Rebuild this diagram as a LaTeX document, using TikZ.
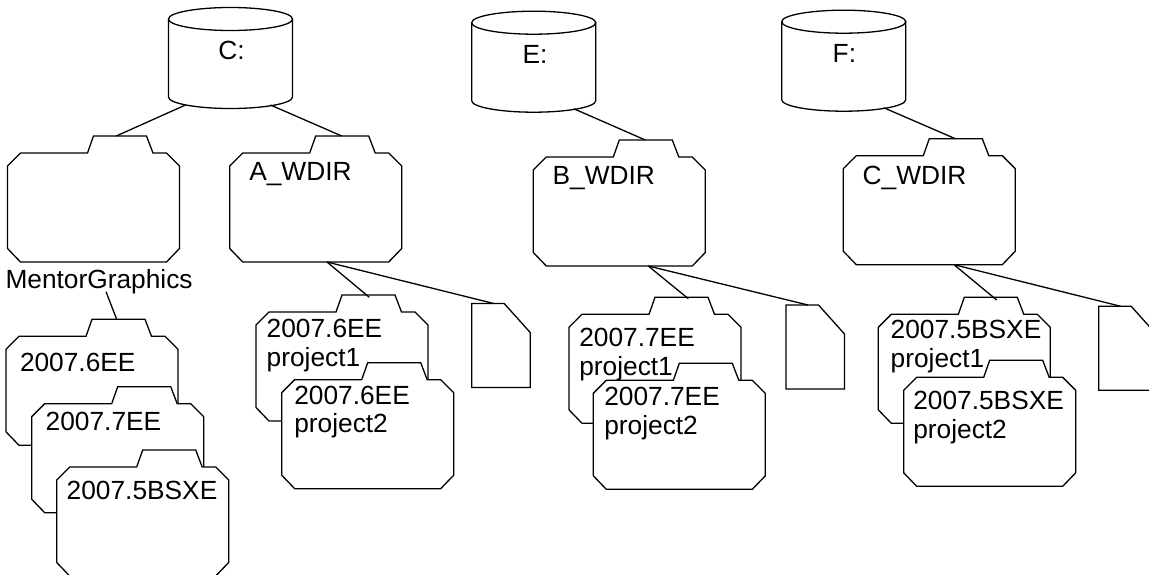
\documentclass[tikz,border=0pt]{standalone}
\usepackage{fontspec}
\setmainfont{Liberation Sans}
\tikzset{
  x=1pt,y=-1pt,
  outline/.style={draw=black,line width=1.3pt,line join=miter,fill=white},
  link/.style={draw=black,line width=1.3pt},
  lab/.style={font=\fontsize{26.3}{28.5}\selectfont,inner sep=0pt,outer sep=0pt,anchor=base west,align=left,text=black},
  folder/.pic={
    \path[outline] (0,30) -- (13,17) -- (80,17) -- (86,0) -- (139,0) -- (145.5,17) -- (159,17)
      -- (172,30) -- (172,112.5) -- (159,126) -- (13,126) -- (0,112.5) -- cycle;
    \coordinate (-tab) at (112,0);
    \coordinate (-bot) at (100,126);
  },
  disk/.pic={
    \path[outline] (0,0) -- (0,78) arc[start angle=180,end angle=360,x radius=62pt,y radius=11.5pt] -- (124,0) -- cycle;
    \path[outline] (62,0) ellipse [x radius=62pt,y radius=11.5pt];
    \coordinate (-sw) at (17,86);
    \coordinate (-se) at (102,86);
  },
  sheet/.pic={
    \path[outline] (0,0) -- (32.5,0) -- (58.5,29) -- (58.5,84) -- (0,84) -- cycle;
    \coordinate (-top) at (22,0);
  }
}
\begin{document}
\begin{tikzpicture}
\path[use as bounding box,clip] (0,0) rectangle (1149,575);
\fill[white] (0,0) rectangle (1149,575);

% disks
\pic (diskC) at (168.5,19) {disk};
\node[lab] (labC) at (218.3,60) {C:};
\pic (diskE) at (471.7,22.7) {disk};
\node[lab] (labE) at (522.7,63.3) {E:};
\pic (diskF) at (781.7,21.7) {disk};
\node[lab] (labF) at (832.7,63) {F:};

% top-level folders
\pic (mentor) at (7.5,136) {folder};
\pic (awdir) at (229.7,136) {folder};
\node[lab] (labA) at (249.3,180.7) {A\_WDIR};
\pic (bwdir) at (533.3,140) {folder};
\node[lab] (labB) at (552.7,185) {B\_WDIR};
\pic (cwdir) at (843.3,138.7) {folder};
\node[lab] (labCW) at (862.7,184.3) {C\_WDIR};
\node[lab] (labMG) at (5.5,288) {MentorGraphics};
\coordinate (mgfoot) at (106,291.7);

% MentorGraphics versions
\pic (mA) at (6,319.3) {folder};
\node[lab] (labmA) at (20,371.7) {2007.6EE};
\pic (mB) at (31.7,386.7) {folder};
\node[lab] (labmB) at (45.7,430.7) {2007.7EE};
\pic (mC) at (56.7,450) {folder};
\node[lab] (labmC) at (66.7,499) {2007.5BSXE};

% A_WDIR projects
\pic (ap1) at (256,295) {folder};
\node[lab] (labap1) at (266.7,366) {2007.6EE\\project1};
\pic (ap2) at (281.7,362.7) {folder};
\node[lab] (labap2) at (294.3,432.7) {2007.6EE\\project2};
\pic (afile) at (471.7,303.5) {sheet};

% B_WDIR projects
\pic (bp1) at (569,297.3) {folder};
\node[lab] (labbp1) at (579.3,375) {2007.7EE\\project1};
\pic (bp2) at (593.3,363.3) {folder};
\node[lab] (labbp2) at (604.3,434) {2007.7EE\\project2};
\pic (bfile) at (786,305) {sheet};

% C_WDIR projects
\pic (cp1) at (878.3,297.3) {folder};
\node[lab] (labcp1) at (890.7,367.3) {2007.5BSXE\\project1};
\pic (cp2) at (903.7,360.3) {folder};
\node[lab] (labcp2) at (913.3,438.3) {2007.5BSXE\\project2};
\pic (cfile) at (1098.7,306.3) {sheet};

% connectors
\draw[link] (diskC-sw) -- ([xshift=-3.2pt]mentor-tab);
\draw[link] (diskC-se) -- (awdir-tab);
\draw[link] (diskE-se) -- (bwdir-tab);
\draw[link] (diskF-se) -- (cwdir-tab);
\draw[link] (mgfoot) -- ([xshift=-1.3pt]mA-tab);
\draw[link] ([xshift=-2.7pt]awdir-bot) -- ([xshift=1.3pt,yshift=-2.3pt]ap1-tab);
\draw[link] ([xshift=-2.7pt]awdir-bot) -- (afile-top);
\draw[link] ([xshift=15pt]bwdir-bot) -- ([xshift=7.3pt,yshift=-1.4pt]bp1-tab);
\draw[link] ([xshift=15pt]bwdir-bot) -- (bfile-top);
\draw[link] ([xshift=10.7pt]cwdir-bot) -- ([xshift=6.4pt,yshift=-2.7pt]cp1-tab);
\draw[link] ([xshift=10.7pt]cwdir-bot) -- (cfile-top);
\end{tikzpicture}
\end{document}
